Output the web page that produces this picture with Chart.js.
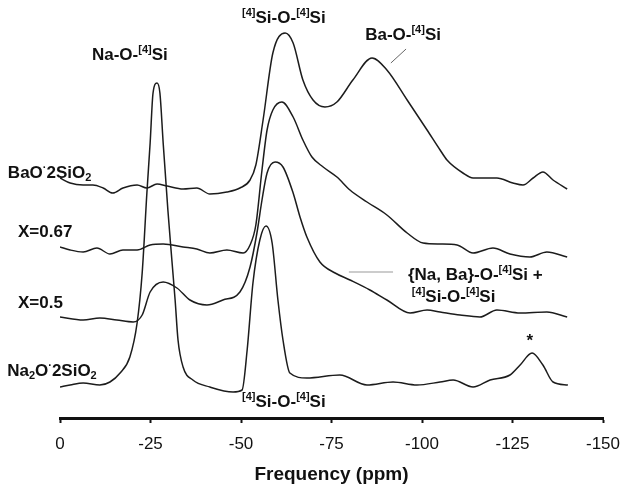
<!DOCTYPE html>
<html>
<head>
<meta charset="utf-8">
<script src="https://cdn.jsdelivr.net/npm/chart.js@4"></script>
<style>
  html, body { margin: 0; padding: 0; background: #fff; }
</style>
</head>
<body>
<canvas id="grafico" width="622" height="494"></canvas>
<script>
// espectros (ppm, intensidade relativa com deslocamento vertical)
const baoPpm = [0, -2.8, -6.4, -9.1, -11.9, -14.6, -17.4, -21.3, -24.0, -26.8, -29.6, -34.0, -37.8, -41.4, -46.1, -49.7, -52.5, -54.1, -56.1, -58.8, -62.2, -64.4, -67.1, -69.9, -73.2, -76.5, -80.9, -86.2, -90.3, -95.9, -101.4, -105.0, -106.9, -111.3, -114.1, -120.7, -125.1, -127.9, -130.7, -133.4, -136.2, -140.1]
const baoInt = [240, 235, 233, 233, 230, 225, 230, 233, 230, 234, 232, 229, 230, 224, 226, 230, 238, 253, 298, 365, 385, 375, 338, 318, 311, 316, 338, 360, 348, 318, 288, 268, 258, 245, 240, 240, 235, 233, 240, 246, 238, 229]

const x067Ppm = [0, -2.8, -6.4, -10.2, -13.8, -17.4, -21.3, -24.9, -28.5, -34.0, -37.8, -41.4, -46.1, -50.6, -52.5, -54.1, -55.8, -57.2, -58.8, -61.3, -64.4, -67.1, -69.6, -72.7, -76.5, -80.1, -84.8, -90.3, -95.9, -100.3, -105.0, -109.7, -114.1, -119.6, -124.3, -129.8, -134.5, -140.1]
const x067Int = [171, 168, 166, 170, 164, 168, 168, 173, 174, 171, 169, 165, 168, 165, 173, 193, 248, 288, 308, 316, 301, 278, 261, 251, 241, 228, 216, 203, 185, 175, 174, 173, 165, 170, 164, 161, 166, 161]

const x05Ppm = [0, -6.4, -11.0, -15.7, -20.2, -22.7, -24.9, -28.5, -32.3, -35.9, -40.6, -45.0, -49.7, -52.5, -54.4, -55.8, -57.2, -59.4, -61.6, -64.4, -66.3, -68.2, -71.8, -76.0, -80.1, -85.6, -90.3, -96.7, -101.4, -105.0, -110.5, -116.0, -120.7, -127.1, -134.5, -140.1]
const x05Int = [101, 98, 100, 98, 96, 103, 126, 136, 130, 118, 113, 118, 126, 151, 185, 218, 245, 256, 251, 225, 201, 181, 156, 145, 138, 128, 118, 105, 108, 106, 103, 101, 108, 105, 106, 101]

const na2oPpm = [0, -2.8, -6.4, -11.0, -13.8, -16.6, -19.3, -21.3, -22.7, -24.0, -24.9, -25.7, -26.8, -27.6, -28.5, -29.8, -30.9, -31.8, -32.6, -34.0, -36.7, -41.4, -47.8, -50.3, -51.7, -53.3, -55.2, -56.9, -58.6, -60.2, -61.6, -63.5, -68.2, -77.3, -84.8, -92.0, -98.6, -105.0, -108.6, -114.1, -118.8, -124.3, -127.1, -130.4, -133.4, -136.2, -140.3]
const na2oInt = [31, 33, 35, 33, 36, 45, 61, 95, 145, 225, 275, 325, 335, 325, 275, 208, 158, 118, 78, 51, 38, 31, 26, 28, 68, 135, 178, 192, 175, 118, 78, 45, 40, 43, 33, 36, 33, 36, 38, 31, 38, 43, 53, 65, 53, 36, 33]

const fonte = '"Liberation Sans", Arial, Helvetica, sans-serif'
const corLinha = '#1c1c1c'

// rótulos: posição em (ppm, intensidade), partes com sobrescrito/subscrito
const rotulos = [
    { ppm: -19.3, inten: 363, alinha: 'center', partes: [['Na-O-', ''], ['[4]', 'sup'], ['Si', '']] },
    { ppm: -50.3, inten: 400, alinha: 'left', partes: [['[4]', 'sup'], ['Si-O-', ''], ['[4]', 'sup'], ['Si', '']] },
    { ppm: -84.3, inten: 383, alinha: 'left', partes: [['Ba-O-', ''], ['[4]', 'sup'], ['Si', '']] },
    { ppm: 14.4, inten: 245, alinha: 'left', partes: [['BaO', ''], ['·', 'sup'], ['2SiO', ''], ['2', 'sub']] },
    { ppm: 11.6, inten: 186, alinha: 'left', partes: [['X=0.67', '']] },
    { ppm: 11.6, inten: 115, alinha: 'left', partes: [['X=0.5', '']] },
    { ppm: 14.6, inten: 47, alinha: 'left', partes: [['Na', ''], ['2', 'sub'], ['O', ''], ['·', 'sup'], ['2SiO', ''], ['2', 'sub']] },
    { ppm: -96.1, inten: 143, alinha: 'left', partes: [['{Na, Ba}-O-', ''], ['[4]', 'sup'], ['Si +', '']] },
    { ppm: -97.2, inten: 121, alinha: 'left', partes: [['[4]', 'sup'], ['Si-O-', ''], ['[4]', 'sup'], ['Si', '']] },
    { ppm: -50.3, inten: 16, alinha: 'left', partes: [['[4]', 'sup'], ['Si-O-', ''], ['[4]', 'sup'], ['Si', '']] },
    { ppm: -129.8, inten: 77, alinha: 'center', partes: [['*', '']] }
]

const linhasGuia = [
    { de: [-95.6, 369], ate: [-91.4, 355], cor: '#666' },
    { de: [-79.8, 146], ate: [-92.0, 146], cor: '#999' }
]

function montaPontos(ppm, inten) {
    return ppm.map((p, i) => ({ x: p, y: inten[i] }))
}

function desenhaRotulo(ctx, x, y, partes, alinha) {
    const tam = 17
    const medidas = partes.map(([txt, tipo]) => {
        const t = tipo ? Math.round(tam * 0.62) : tam
        ctx.font = `bold ${t}px ${fonte}`
        return { txt, tipo, t, w: ctx.measureText(txt).width }
    })
    const total = medidas.reduce((s, m) => s + m.w, 0)
    let cx = alinha === 'center' ? x - total / 2 : x
    ctx.textBaseline = 'middle'
    ctx.textAlign = 'left'
    ctx.fillStyle = '#111'
    medidas.forEach(m => {
        ctx.font = `bold ${m.t}px ${fonte}`
        let dy = 0
        if (m.tipo === 'sup') dy = -tam * 0.3
        if (m.tipo === 'sub') dy = tam * 0.28
        ctx.fillText(m.txt, cx, y + dy)
        cx += m.w
    })
}

const pluginRotulos = {
    id: 'rotulos',
    afterDatasetsDraw(chart) {
        const ctx = chart.ctx
        const sx = chart.scales.x
        const sy = chart.scales.y
        ctx.save()
        linhasGuia.forEach(l => {
            ctx.strokeStyle = l.cor
            ctx.lineWidth = 1
            ctx.beginPath()
            ctx.moveTo(sx.getPixelForValue(l.de[0]), sy.getPixelForValue(l.de[1]))
            ctx.lineTo(sx.getPixelForValue(l.ate[0]), sy.getPixelForValue(l.ate[1]))
            ctx.stroke()
        })
        rotulos.forEach(r => {
            desenhaRotulo(ctx, sx.getPixelForValue(r.ppm), sy.getPixelForValue(r.inten), r.partes, r.alinha)
        })
        ctx.restore()
    }
}

function serie(nome, ppm, inten) {
    return {
        label: nome,
        data: montaPontos(ppm, inten),
        borderColor: corLinha,
        borderWidth: 1.5,
        pointRadius: 0,
        fill: false,
        cubicInterpolationMode: 'monotone'
    }
}

new Chart(document.getElementById('grafico'), {
    type: 'line',
    data: {
        datasets: [
            serie('BaO·2SiO2', baoPpm, baoInt),
            serie('X=0.67', x067Ppm, x067Int),
            serie('X=0.5', x05Ppm, x05Int),
            serie('Na2O·2SiO2', na2oPpm, na2oInt)
        ]
    },
    options: {
        responsive: false,
        animation: false,
        devicePixelRatio: 1,
        layout: { padding: { top: 10, left: 60, right: 19, bottom: 0 } },
        plugins: {
            legend: { display: false },
            tooltip: { enabled: false }
        },
        scales: {
            x: {
                type: 'linear',
                min: -150,
                max: 0,
                reverse: true,
                afterFit: (escala) => {
                    escala.height = 76
                    escala.paddingLeft = 0
                    escala.paddingRight = 0
                },
                ticks: {
                    stepSize: 25,
                    padding: 11,
                    color: '#111',
                    font: { family: fonte, size: 17 }
                },
                grid: {
                    display: true,
                    drawOnChartArea: false,
                    drawTicks: true,
                    tickLength: 5,
                    tickWidth: 2,
                    tickColor: '#111'
                },
                border: { display: true, color: '#111', width: 3 },
                title: {
                    display: true,
                    text: 'Frequency (ppm)',
                    color: '#111',
                    padding: 8,
                    font: { family: fonte, size: 19, weight: 'bold' }
                }
            },
            y: {
                display: false,
                min: 0,
                max: 408
            }
        }
    },
    plugins: [pluginRotulos]
})
</script>
</body>
</html>
